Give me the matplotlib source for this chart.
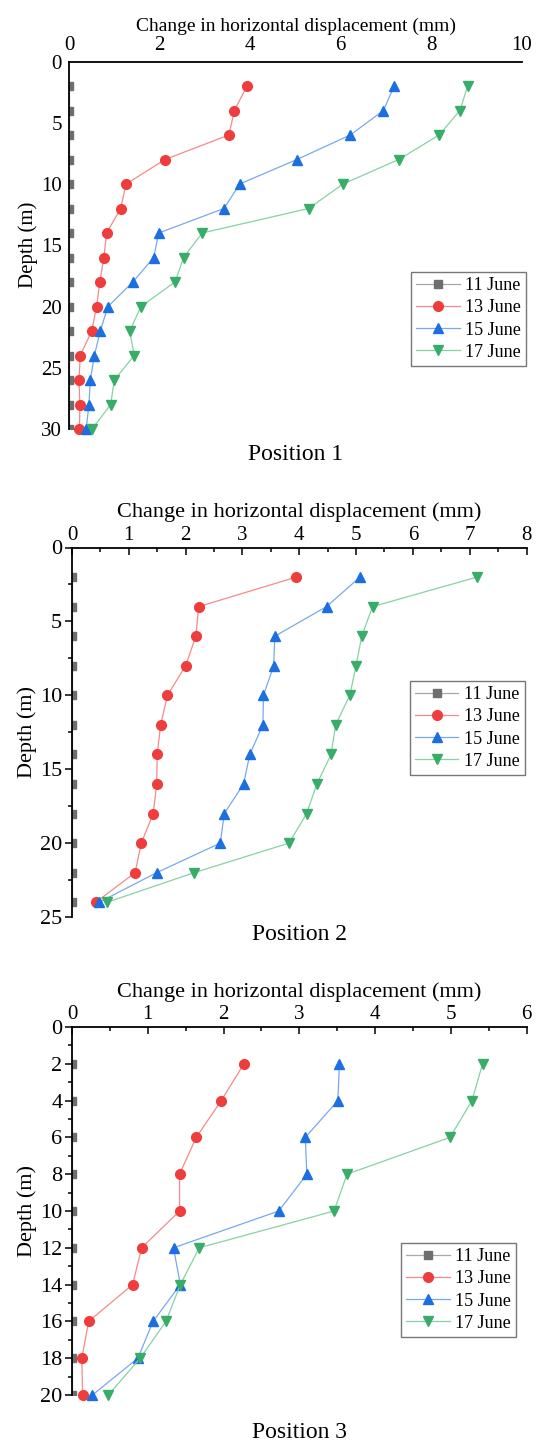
import numpy as np
import matplotlib.pyplot as plt
from matplotlib.ticker import MultipleLocator

plt.rcParams['font.family'] = ['Liberation Serif', 'DejaVu Serif']

# Position 1 (depth 2..30 m)
depth1 = [2, 4, 6, 8, 10, 12, 14, 16, 18, 20, 22, 24, 26, 28, 30]
p1_jun11 = [0] * 15
p1_jun13 = [3.93, 3.65, 3.53, 2.12, 1.26, 1.14, 0.83, 0.77, 0.68, 0.61, 0.50, 0.25, 0.22, 0.24, 0.23]
p1_jun15 = [7.18, 6.94, 6.21, 5.03, 3.77, 3.42, 1.98, 1.87, 1.41, 0.86, 0.69, 0.56, 0.47, 0.44, 0.38]
p1_jun17 = [8.80, 8.63, 8.17, 7.28, 6.05, 5.29, 2.94, 2.53, 2.34, 1.59, 1.34, 1.44, 1.00, 0.92, 0.51]

# Position 2 (depth 2..24 m)
depth2 = [2, 4, 6, 8, 10, 12, 14, 16, 18, 20, 22, 24]
p2_jun11 = [0] * 12
p2_jun13 = [3.95, 2.23, 2.18, 2.00, 1.68, 1.56, 1.50, 1.49, 1.43, 1.22, 1.11, 0.42]
p2_jun15 = [5.07, 4.48, 3.57, 3.55, 3.37, 3.36, 3.13, 3.02, 2.68, 2.61, 1.49, 0.48]
p2_jun17 = [7.13, 5.29, 5.10, 5.00, 4.89, 4.64, 4.56, 4.31, 4.13, 3.82, 2.15, 0.62]

# Position 3 (depth 2..20 m)
depth3 = [2, 4, 6, 8, 10, 12, 14, 16, 18, 20]
p3_jun11 = [0] * 10
p3_jun13 = [2.27, 1.97, 1.64, 1.42, 1.42, 0.92, 0.80, 0.22, 0.13, 0.14]
p3_jun15 = [3.53, 3.51, 3.08, 3.10, 2.73, 1.34, 1.43, 1.07, 0.87, 0.27]
p3_jun17 = [5.42, 5.28, 4.99, 3.63, 3.46, 1.68, 1.43, 1.24, 0.90, 0.48]

labels = ['11 June', '13 June', '15 June', '17 June']
markers = ['s', 'o', '^', 'v']
mcolors = ['#6e6e6e', '#ef3d3d', '#1b6fe0', '#37ad68']
lcolors = ['#a8a8a8', '#f48a8a', '#78a8f0', '#86d2a4']
msizes = [5.5, 7, 7.5, 7.5]

W, H = 536, 1443
fig = plt.figure(figsize=(W / 100, H / 100), dpi=100)


def panel(box, depth, series, xmax, xmaj, ymax, ymaj, title, title_y, leg_box,
          ticks=True, xl_fs=16, yl_fs=16, xl_pad=6):
    l, t, r, b = box
    ax = fig.add_axes([l / W, 1 - b / H, (r - l) / W, (b - t) / H])
    for i, s in enumerate(series):
        # 11 June sits on the axis, half hidden like in the source figure
        ax.plot(s, depth, color=lcolors[i], lw=0.9, marker=markers[i], ms=msizes[i],
                mfc=mcolors[i], mec=mcolors[i], label=labels[i], clip_on=(i == 0),
                zorder=3 if i else 2)
    ax.set_xlim(0, xmax)
    ax.set_ylim(ymax, 0)
    ax.xaxis.tick_top()
    ax.xaxis.set_label_position('top')
    ax.xaxis.set_major_locator(MultipleLocator(xmaj))
    ax.yaxis.set_major_locator(MultipleLocator(ymaj))
    for sp in ['right', 'bottom']:
        ax.spines[sp].set_visible(False)
    for sp in ['top', 'left']:
        ax.spines[sp].set_linewidth(1.3)
        ax.spines[sp].set_zorder(2.5)
    ax.set_xlabel('Change in horizontal displacement (mm)', fontsize=xl_fs, labelpad=xl_pad)
    ax.set_ylabel('Depth (m)', fontsize=yl_fs, labelpad=2)
    if ticks:
        ax.xaxis.set_minor_locator(MultipleLocator(xmaj / 2))
        ax.yaxis.set_minor_locator(MultipleLocator(ymaj / 2))
        ax.tick_params(axis='x', which='major', direction='in', length=5, width=1.1,
                       labelsize=15, pad=2)
        ax.tick_params(axis='x', which='minor', direction='in', length=3, width=1.1)
        ax.tick_params(axis='y', which='major', direction='out', length=5, width=1.1,
                       labelsize=16, pad=2)
        ax.tick_params(axis='y', which='minor', direction='out', length=3, width=1.1)
    else:
        ax.tick_params(axis='both', length=0, labelsize=15, pad=5)
    leg = ax.legend(loc='upper left', bbox_to_anchor=(leg_box[0] / W, 1 - leg_box[1] / H),
                    bbox_transform=fig.transFigure, fontsize=13, frameon=True,
                    fancybox=False, edgecolor='#555555', handlelength=2.4,
                    handletextpad=0.3, borderpad=0.3, labelspacing=0.28,
                    borderaxespad=0)
    leg.get_frame().set_linewidth(1.0)
    fig.text((l + r) / 2 / W, 1 - title_y / H, title, ha='center', va='center',
             fontsize=17)
    return ax


panel((69, 61.5, 522, 429), depth1, [p1_jun11, p1_jun13, p1_jun15, p1_jun17],
      10, 2, 30, 5, 'Position 1', 455, (411, 272), ticks=False, xl_fs=14, yl_fs=15,
      xl_pad=3)
panel((72, 547.5, 526.5, 917), depth2, [p2_jun11, p2_jun13, p2_jun15, p2_jun17],
      8, 1, 25, 5, 'Position 2', 934, (409.5, 681))
panel((72, 1027, 526.5, 1395), depth3, [p3_jun11, p3_jun13, p3_jun15, p3_jun17],
      6, 1, 20, 2, 'Position 3', 1432, (401, 1243))

fig.savefig('out.png', dpi=100)
